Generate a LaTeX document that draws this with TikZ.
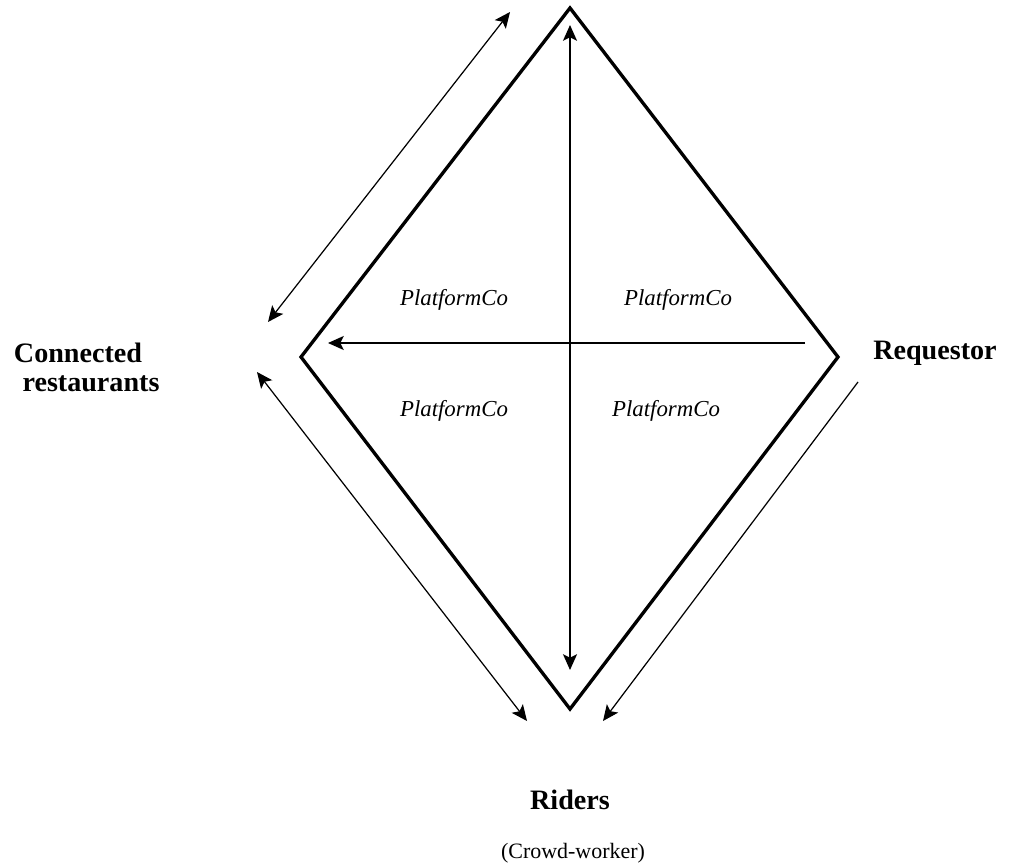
\documentclass[tikz,border=0pt]{standalone}
\usepackage{fontspec}
\setmainfont{Liberation Serif}
\usetikzlibrary{arrows.meta, positioning}

\begin{document}
\begin{tikzpicture}[x=0.02cm, y=-0.02cm,
    node distance=0.25cm,
    >={Stealth[length=9pt,width=8pt,inset=2pt]},
    party/.style={font=\fontsize{16}{19}\selectfont\bfseries},
    quarter/.style={font=\fontsize{13}{16}\selectfont\itshape},
    frame/.style={line width=1.9pt, line join=miter},
    flow/.style={line width=0.9pt},
    link/.style={line width=0.7pt}]

    \useasboundingbox (0,0) rectangle (1010,868);

    % corners of the diamond
    \coordinate (top)    at (570,8);
    \coordinate (left)   at (301,357);
    \coordinate (right)  at (838,357);
    \coordinate (bottom) at (570,709);

    \draw[frame] (top) -- (right) -- (bottom) -- (left) -- cycle;

    % inner arrows
    \coordinate (v_up)   at (570,25);
    \coordinate (v_down) at (570,670);
    \coordinate (h_from) at (805,343);
    \coordinate (h_to)   at (328,343);

    \draw[flow,<->] (v_up) -- (v_down);
    \draw[flow,->]  (h_from) -- (h_to);

    % outer arrows
    \coordinate (tl_a) at (268,322);
    \coordinate (tl_b) at (510,12);
    \coordinate (bl_a) at (257,372);
    \coordinate (bl_b) at (527,721);
    \coordinate (br_a) at (858,382);
    \coordinate (br_b) at (603,721);

    \draw[link,<->] (tl_a) -- (tl_b);
    \draw[link,<->] (bl_a) -- (bl_b);
    \draw[link,->]  (br_a) -- (br_b);

    % parties
    \node[party] (conn)  at (78,353)  {Connected};
    \node[party] (rest)  at (91,384)  {restaurants};
    \node[party] (req)   at (935,353) {Requestor};
    \node[party] (riders) at (570,800) {Riders};
    \node[font=\fontsize{12.5}{15}\selectfont] (crowd) at (573,853) {(Crowd-worker)};

    % quarters
    \node[quarter] (pc_tl) at (454,300) {PlatformCo};
    \node[quarter] (pc_tr) at (678,300) {PlatformCo};
    \node[quarter] (pc_bl) at (454,411) {PlatformCo};
    \node[quarter] (pc_br) at (666,411) {PlatformCo};

\end{tikzpicture}
\end{document}
